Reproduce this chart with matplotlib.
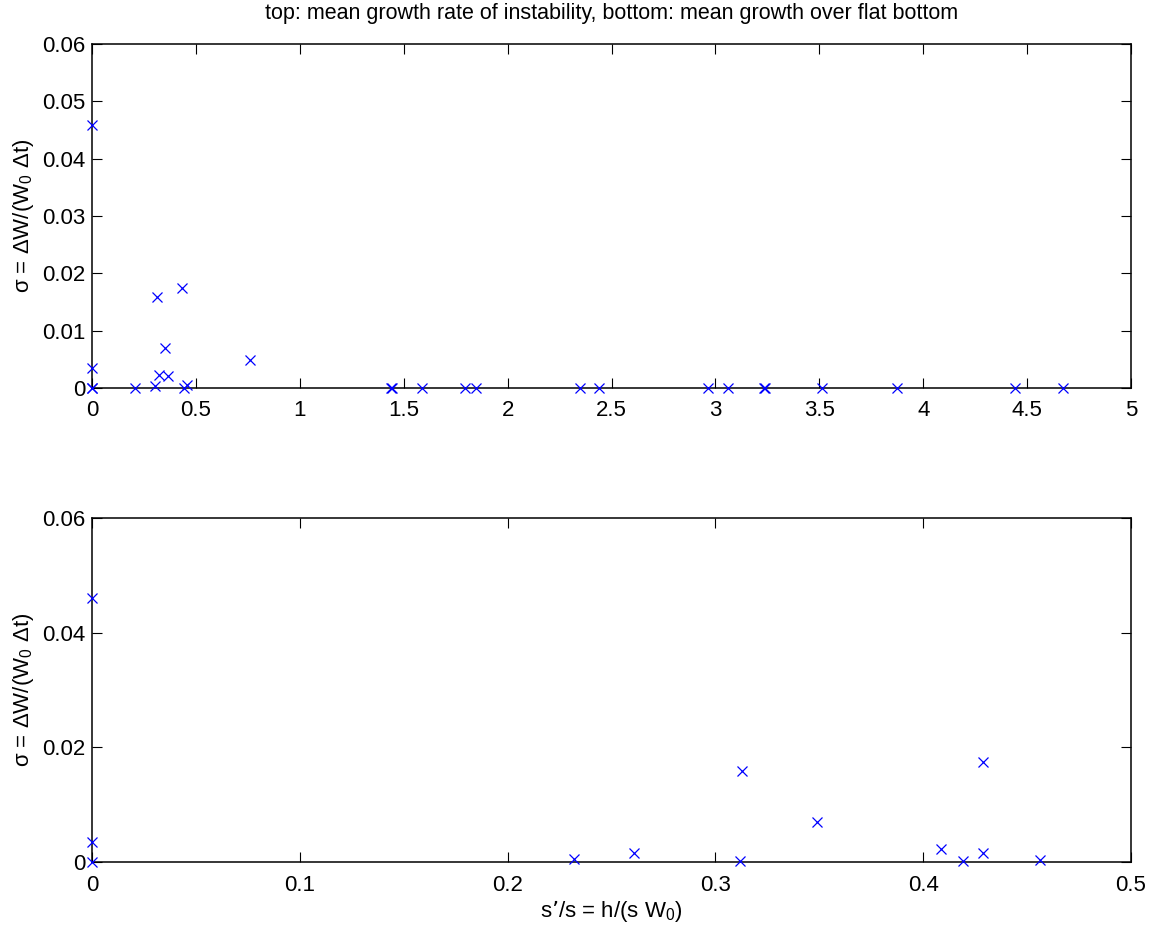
import matplotlib
matplotlib.use("Agg")
import matplotlib.pyplot as plt

# top panel: mean growth rate of instability
top_x = [0.0, 0.0, 0.0, 0.0, 0.205, 0.303, 0.311, 0.322, 0.351, 0.367,
         0.431, 0.441, 0.455, 0.760, 1.437, 1.443, 1.589, 1.796, 1.846,
         2.348, 2.439, 2.962, 3.060, 3.232, 3.238, 3.514, 3.875, 4.441, 4.672]
top_y = [0.0458, 0.00356, 0.0, 0.0, 0.0, 0.0004, 0.0159, 0.00224, 0.0069, 0.00213,
         0.01736, 0.0, 0.0005, 0.00489, 0.0, 0.0, 0.0, 0.0, 0.0,
         0.0, 0.0, 0.0, 0.0, 0.0, 0.0, 0.0, 0.0, 0.0, 0.0]

# bottom panel: mean growth over flat bottom
bot_x = [0.0, 0.0, 0.0, 0.232, 0.261, 0.313, 0.312, 0.349, 0.4085, 0.419,
         0.429, 0.429, 0.456]
bot_y = [0.046, 0.00347, 0.0, 0.00058, 0.0016, 0.01585, 0.0001, 0.00692, 0.00219, 0.0001,
         0.0174, 0.00161, 0.0003]

top_xticks = [0, 0.5, 1, 1.5, 2, 2.5, 3, 3.5, 4, 4.5, 5]
top_xlabels = ["0", "0.5", "1", "1.5", "2", "2.5", "3", "3.5", "4", "4.5", "5"]
top_yticks = [0, 0.01, 0.02, 0.03, 0.04, 0.05, 0.06]
top_ylabels = ["0", "0.01", "0.02", "0.03", "0.04", "0.05", "0.06"]
bot_xticks = [0, 0.1, 0.2, 0.3, 0.4, 0.5]
bot_xlabels = ["0", "0.1", "0.2", "0.3", "0.4", "0.5"]
bot_yticks = [0, 0.02, 0.04, 0.06]
bot_ylabels = ["0", "0.02", "0.04", "0.06"]

plt.rcParams["font.family"] = ["Liberation Sans", "DejaVu Sans"]
plt.rcParams["mathtext.default"] = "regular"
plt.rcParams["font.size"] = 16

fig = plt.figure(figsize=(11.56, 9.26), dpi=100)
ax1 = fig.add_axes([0.0796, 0.581, 0.8988, 0.3715])
ax2 = fig.add_axes([0.0796, 0.0691, 0.8988, 0.3715])

ylab = "\u03c3 = \u0394W/(W$_0$ \u0394t)"
panels = [
    (ax1, top_x, top_y, (0, 5), top_xticks, top_xlabels, top_yticks, top_ylabels),
    (ax2, bot_x, bot_y, (0, 0.5), bot_xticks, bot_xlabels, bot_yticks, bot_ylabels),
]
for ax, xs, ys, xlim, xt, xl, yt, yl in panels:
    ax.plot(xs, ys, "x", color="blue", ms=7, mew=0.9, clip_on=False, zorder=5)
    ax.set_xlim(*xlim)
    ax.set_ylim(0, 0.06)
    ax.set_xticks(xt)
    ax.set_xticklabels(xl)
    ax.set_yticks(yt)
    ax.set_yticklabels(yl)
    ax.tick_params(direction="in", top=True, right=True, length=7, width=0.8,
                   labelsize=16)
    ax.tick_params(axis="x", pad=9)
    ax.tick_params(axis="y", pad=5)
    for sp in ax.spines.values():
        sp.set_linewidth(1.1)
    ax.set_ylabel(ylab, fontsize=16, labelpad=4)

ax1.set_title("top: mean growth rate of instability, bottom: mean growth over flat bottom",
              fontsize=15.5, pad=18)
ax2.set_xlabel("s\u2019/s = h/(s W$_0$)", fontsize=16, labelpad=2)

fig.savefig("out.png", dpi=100)
